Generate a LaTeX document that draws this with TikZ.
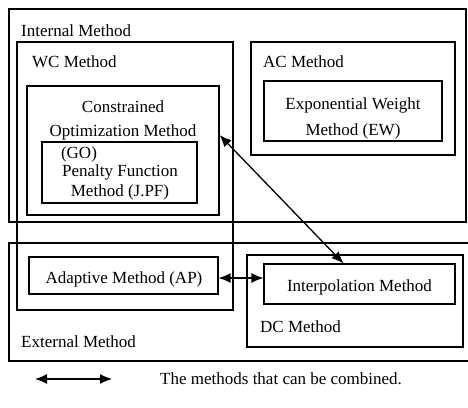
\documentclass[tikz,border=0pt]{standalone}
\usepackage{fontspec}
\setmainfont{Liberation Serif}
\usetikzlibrary{positioning,arrows.meta}

\begin{document}
\begin{tikzpicture}[x=1pt,y=-1pt,
  every node/.style={font=\fontsize{17}{25}\selectfont},
  frame/.style 2 args={draw,line width=1.1pt,minimum width=#1,minimum height=#2,inner sep=0pt},
  lbl/.style={inner sep=0pt,anchor=west},
  txt/.style={inner sep=0pt,align=center},
  combo/.style={{Latex[length=12pt,width=10pt]}-{Latex[length=12pt,width=10pt]},line width=1.3pt}]
  \useasboundingbox (0,0) rectangle (468,407);

  % outer groups
  \node[frame={457}{213}](internal) at (237.5,115.5) {};
  \node[frame={462}{118}](external) at (240,302) {};
  \node[lbl] (internallbl) at (21,31) {Internal Method};
  \node[lbl] (externallbl) at (21,342) {External Method};

  % WC method
  \node[frame={216}{268}](wc) at (125,176) {};
  \node[lbl] (wclbl) at (32,62) {WC Method};
  \node[frame={192}{129}](go) at (123,150.5) {};
  \node[txt,font=\fontsize{17}{24}\selectfont] (golbl) at (123,120.5) {Constrained\\Optimization Method};
  \node[frame={155}{61}](pf) at (119.5,172.5) {};
  \node[inner sep=0pt] (gotag) at (79,154) {(GO)};
  \node[txt,font=\fontsize{17}{20}\selectfont] (pflbl) at (120,182) {Penalty Function\\Method (J.PF)};
  \node[frame={189}{37}](ap) at (123.5,275.5) {};
  \node[txt] (aplbl) at (124,279) {Adaptive Method (AP)};

  % AC method
  \node[frame={204}{113}](ac) at (353,98.5) {};
  \node[lbl] (aclbl) at (263,62) {AC Method};
  \node[frame={178}{60}](ew) at (353,111) {};
  \node[txt,font=\fontsize{17}{26}\selectfont] (ewlbl) at (353,118) {Exponential Weight\\Method (EW)};

  % DC method
  \node[frame={216}{92}](dc) at (355,301) {};
  \node[lbl] (dclbl) at (260,327) {DC Method};
  \node[frame={191}{40}](ip) at (359.5,284) {};
  \node[txt] (iplbl) at (359.5,287) {Interpolation Method};

  % combinations
  \draw[combo] ([yshift=15.5pt]go.east) -- ([xshift=-16pt]ip.north);
  \draw[combo] ([yshift=-2.5pt]ap.east) -- ([yshift=-2.5pt]ap.east -| ip.west);

  % legend
  \coordinate (legL) at (35,379);
  \coordinate (legR) at (112,379);
  \draw[combo] (legL) -- (legR);
  \node[lbl,right=48pt of legR] (legtxt) {The methods that can be combined.};
\end{tikzpicture}
\end{document}
